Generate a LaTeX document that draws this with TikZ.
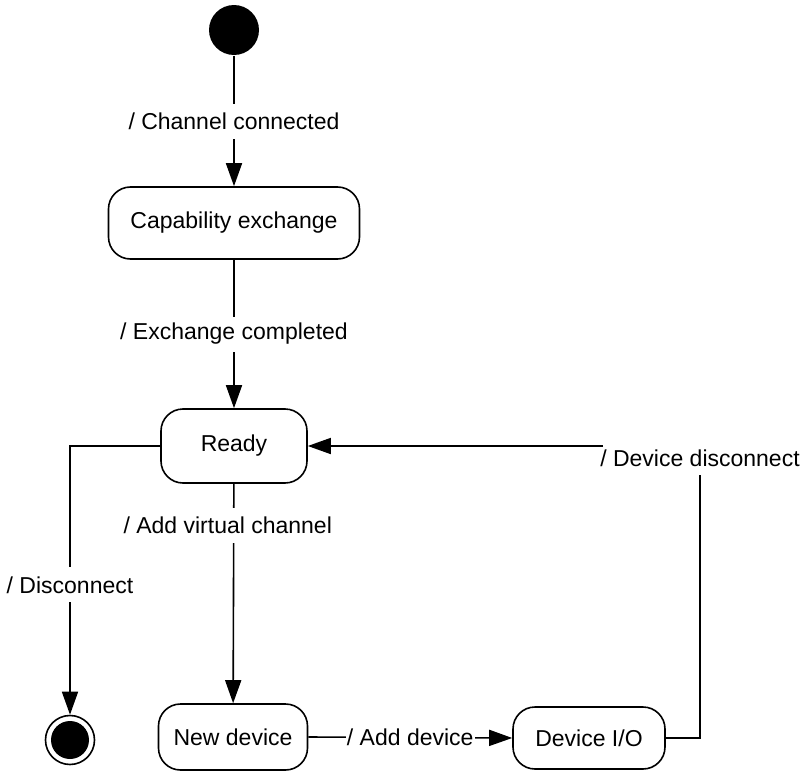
\documentclass[tikz,border=0pt]{standalone}
\usepackage{fontspec}
\setmainfont{Liberation Sans}
\usetikzlibrary{arrows.meta}
\begin{document}
\begin{tikzpicture}[x=1pt,y=-1pt,
  every node/.style={font=\fontsize{23}{28}\selectfont},
  line width=1.6pt,
  statebox/.style={draw, rounded corners=22pt, inner sep=0pt, line width=1.6pt},
  arr/.style={-{Triangle[length=23pt,width=16pt]}},
  lbl/.style={fill=white, inner xsep=1pt, inner ysep=0pt, minimum height=35pt}]
\useasboundingbox (0,0) rectangle (807,771);
% states
\node[circle, fill=black, inner sep=0pt, minimum size=50pt] (init) at (234,30) {};
\node[statebox, minimum width=251pt, minimum height=72pt] (cap) at (234,223) {Capability exchange};
\node[statebox, minimum width=146pt, minimum height=74pt] (ready) at (234,446) {Ready};
\node[statebox, minimum width=149pt, minimum height=66pt] (newd) at (233,737) {New device};
\node[statebox, minimum width=152pt, minimum height=62pt] (dio) at (589,738) {Device I/O};
\node[circle, draw, line width=1.6pt, inner sep=0pt, minimum size=49pt] (fin) at (70,740) {};
\node[circle, fill=black, inner sep=0pt, minimum size=38pt] (finin) at (fin.center) {};
% helper coordinates
\coordinate (dc) at (70,446);
\coordinate (c2) at (700,475);
\coordinate (c3) at (603,446);
% transitions
\draw[arr] (init) -- node[lbl]{/ Channel connected} (cap);
\draw[arr] (cap) -- node[lbl]{/ Exchange completed} (ready);
\draw[arr] (ready) -- node[lbl, pos=0.19, xshift=-6pt]{/ Add virtual channel} (newd);
\draw[arr] (ready.west) -- (dc) -- node[lbl, pos=0.517]{/ Disconnect} (fin);
\draw[arr] (newd.east) -- node[lbl]{/ Add device} (dio.west);
\node[inner sep=0pt] (dd) at (700,458) {/ Device disconnect};
\draw (dio.east) -| (c2);
\draw[arr] (c3) -- (ready.east);
\end{tikzpicture}
\end{document}
